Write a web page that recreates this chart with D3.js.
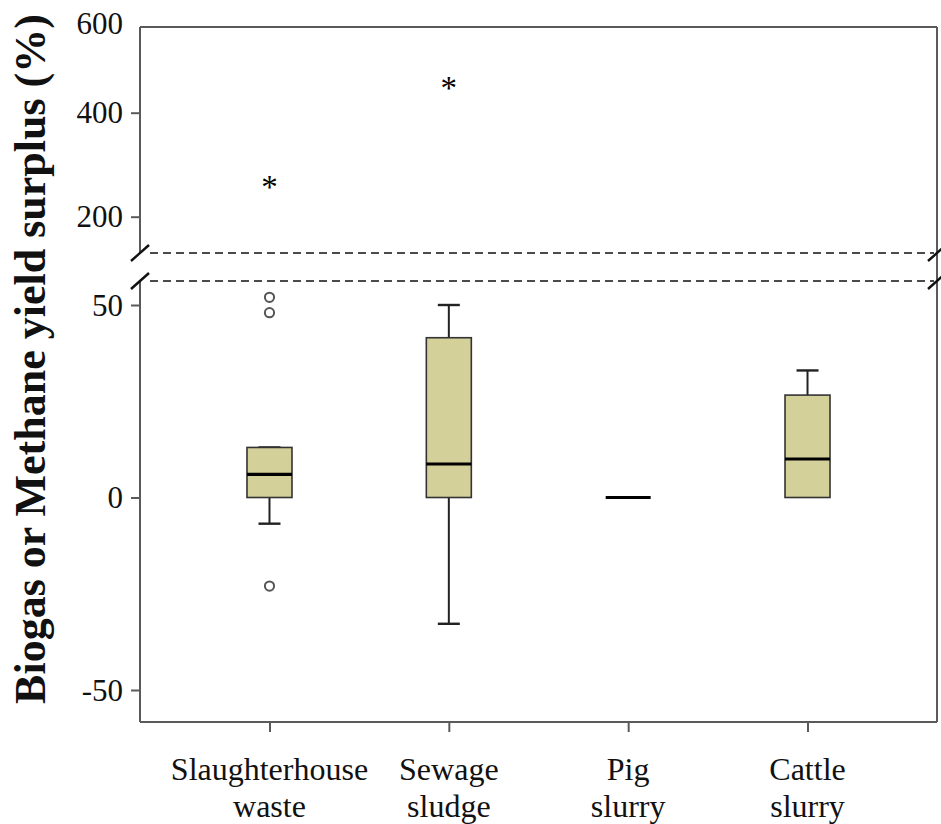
<!DOCTYPE html>
<html>
<head>
<meta charset="utf-8">
<script src="https://cdn.jsdelivr.net/npm/d3@7"></script>
<style>
  html, body { margin: 0; padding: 0; background: #fff; }
  svg { display: block; }
</style>
</head>
<body>
<svg id="chart" width="941" height="824"></svg>
<script>
// ---------------- data ----------------
const categories = ["Slaughterhouse waste", "Sewage sludge", "Pig slurry", "Cattle slurry"];
const labelLines = [["Slaughterhouse", "waste"], ["Sewage", "sludge"], ["Pig", "slurry"], ["Cattle", "slurry"]];
const q1Values = [0, 0, 0, 0];
const medianValues = [6, 8.7, 0, 10];
const q3Values = [13, 41.5, 0, 26.6];
const whiskerLow = [-6.8, -32.8, 0, 0];
const whiskerHigh = [13, 50, 0, 33];
const outlierCats = ["Slaughterhouse waste", "Slaughterhouse waste", "Slaughterhouse waste"];
const outlierValues = [52, 48, -23];
const extremeCats = ["Slaughterhouse waste", "Sewage sludge"];
const extremeValues = [260, 460];
const lowerTicks = [-50, 0, 50];
const upperTicks = [200, 400, 600];
const yTitle = "Biogas or Methane yield surplus (%)";

// ---------------- layout ----------------
const svg = d3.select("#chart");
const plotLeft = 140, plotRight = 937, plotTop = 27, plotBottom = 722;
const breakTop = 253, breakBottom = 281;
const font = "'Liberation Serif', 'Times New Roman', serif";
const axisColor = "#5a5a5a";
const fmt = d => String(d);

const x = d3.scalePoint().domain(categories).range([plotLeft, plotRight]).padding(0.722);
const yLow = d3.scaleLinear().domain([-50, 50]).range([690, 305]);
const yHigh = d3.scaleLinear().domain([200, 400, 600]).range([216.7, 112.7, 27]);

// frame lines
svg.append("line").attr("x1", plotLeft).attr("x2", plotRight).attr("y1", plotTop).attr("y2", plotTop)
  .attr("stroke", axisColor).attr("stroke-width", 2);
svg.append("line").attr("x1", plotRight).attr("x2", plotRight).attr("y1", plotTop).attr("y2", plotBottom)
  .attr("stroke", axisColor).attr("stroke-width", 2);

// dashed break lines
[breakTop, breakBottom].forEach(yb => {
  svg.append("line").attr("x1", plotLeft + 10).attr("x2", plotRight - 3).attr("y1", yb).attr("y2", yb)
    .attr("stroke", "#111").attr("stroke-width", 1.6).attr("stroke-dasharray", "8,5");
});

// upper y axis
const axHigh = svg.append("g").attr("transform", `translate(${plotLeft},0)`)
  .call(d3.axisLeft(yHigh).tickValues(upperTicks).tickSize(9).tickPadding(8).tickFormat(fmt));
axHigh.select(".domain").attr("d", `M0,${plotTop}V${breakTop}`).attr("stroke", axisColor).attr("stroke-width", 2);
axHigh.selectAll(".tick line").attr("stroke", axisColor).attr("stroke-width", 2)
  .filter(d => d === 600).remove();
axHigh.selectAll(".tick text").attr("font-family", font).attr("font-size", 31).attr("fill", "#111")
  .attr("dy", "0.33em");
axHigh.selectAll(".tick").filter(d => d === 600).select("text").attr("dy", "0.22em");

// lower y axis
const axLow = svg.append("g").attr("transform", `translate(${plotLeft},0)`)
  .call(d3.axisLeft(yLow).tickValues(lowerTicks).tickSize(9).tickPadding(8).tickFormat(fmt));
axLow.select(".domain").attr("d", `M0,${breakBottom}V${plotBottom}`).attr("stroke", axisColor).attr("stroke-width", 2);
axLow.selectAll(".tick line").attr("stroke", axisColor).attr("stroke-width", 2);
axLow.selectAll(".tick text").attr("font-family", font).attr("font-size", 31).attr("fill", "#111")
  .attr("dy", "0.33em");

// break slashes
[[plotLeft, breakTop], [plotLeft, breakBottom], [plotRight, breakTop], [plotRight, breakBottom]].forEach(([cx, cy]) => {
  svg.append("line").attr("x1", cx - 9).attr("y1", cy + 8).attr("x2", cx + 9).attr("y2", cy - 8)
    .attr("stroke", "#111").attr("stroke-width", 2.4);
});

// x axis
const axX = svg.append("g").attr("transform", `translate(0,${plotBottom})`)
  .call(d3.axisBottom(x).tickSize(10).tickFormat(""));
axX.select(".domain").attr("d", `M${plotLeft},0H${plotRight}`).attr("stroke", axisColor).attr("stroke-width", 2);
axX.selectAll(".tick line").attr("stroke", axisColor).attr("stroke-width", 2);

// x labels
categories.forEach((c, i) => {
  const t = svg.append("text").attr("x", x(c)).attr("y", 780)
    .attr("text-anchor", "middle").attr("font-family", font).attr("font-size", 32).attr("fill", "#111");
  labelLines[i].forEach((ln, j) => {
    t.append("tspan").attr("x", x(c)).attr("dy", j === 0 ? 0 : 37).text(ln);
  });
});

// y title
svg.append("text")
  .attr("transform", `translate(45,359) rotate(-90)`)
  .attr("text-anchor", "middle").attr("font-family", font).attr("font-weight", "bold")
  .attr("font-size", 44).attr("fill", "#111").text(yTitle);

// boxes
const boxW = 45, capW = 22;
const g = svg.append("g");
categories.forEach((c, i) => {
  const cx = x(c);
  g.append("line").attr("x1", cx).attr("x2", cx).attr("y1", yLow(whiskerHigh[i])).attr("y2", yLow(q3Values[i]))
    .attr("stroke", "#222").attr("stroke-width", 2);
  g.append("line").attr("x1", cx).attr("x2", cx).attr("y1", yLow(q1Values[i])).attr("y2", yLow(whiskerLow[i]))
    .attr("stroke", "#222").attr("stroke-width", 2);
  g.append("line").attr("x1", cx - capW / 2).attr("x2", cx + capW / 2).attr("y1", yLow(whiskerHigh[i])).attr("y2", yLow(whiskerHigh[i]))
    .attr("stroke", "#222").attr("stroke-width", 2.4);
  if (whiskerLow[i] !== q1Values[i]) {
    g.append("line").attr("x1", cx - capW / 2).attr("x2", cx + capW / 2).attr("y1", yLow(whiskerLow[i])).attr("y2", yLow(whiskerLow[i]))
      .attr("stroke", "#222").attr("stroke-width", 2.4);
  }
  g.append("rect").attr("x", cx - boxW / 2).attr("width", boxW)
    .attr("y", yLow(q3Values[i])).attr("height", yLow(q1Values[i]) - yLow(q3Values[i]))
    .attr("fill", "#d4d09a").attr("stroke", "#333").attr("stroke-width", 1.6);
  g.append("line").attr("x1", cx - boxW / 2).attr("x2", cx + boxW / 2)
    .attr("y1", yLow(medianValues[i])).attr("y2", yLow(medianValues[i]))
    .attr("stroke", "#000").attr("stroke-width", 3.2);
});

// outliers
outlierCats.forEach((c, i) => {
  g.append("circle").attr("cx", x(c)).attr("cy", yLow(outlierValues[i])).attr("r", 4.6)
    .attr("fill", "#fff").attr("stroke", "#555").attr("stroke-width", 2);
});

// extremes
extremeCats.forEach((c, i) => {
  g.append("text").attr("x", x(c)).attr("y", yHigh(extremeValues[i]) + 12)
    .attr("text-anchor", "middle").attr("font-family", font).attr("font-size", 33)
    .attr("fill", "#000").text("*");
});
</script>
</body>
</html>
